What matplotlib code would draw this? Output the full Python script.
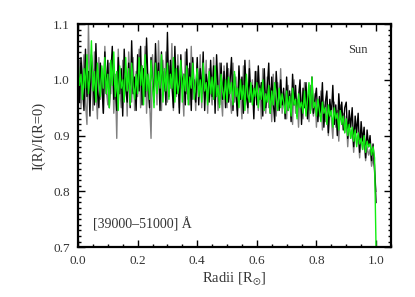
import numpy as np
import matplotlib
matplotlib.use("Agg")
import matplotlib.pyplot as plt
from matplotlib.ticker import MultipleLocator

plt.rcParams['font.family'] = ['Liberation Serif', 'DejaVu Serif']
plt.rcParams['mathtext.fontset'] = 'dejavuserif'

# radii sampled across the disc, 0 .. 1 R_sun (step 0.005)
radii = np.linspace(0.0, 1.0, 201)

gray_vals = [
    0.985, 1.035, 0.950, 1.010, 1.045, 0.960, 0.920, 1.100, 0.975, 1.025, 0.945, 1.050, 0.990, 0.930, 1.040, 0.965, 1.020, 0.940, 1.060, 0.980,
    0.955, 1.030, 0.975, 1.045, 0.940, 1.010, 0.895, 1.055, 0.985, 0.950, 1.035, 0.965, 1.020, 0.935, 1.050, 0.990, 0.960, 1.040, 0.945, 1.015,
    0.970, 1.055, 0.950, 1.025, 0.985, 1.060, 0.940, 1.010, 0.965, 0.895, 1.045, 0.975, 1.030, 0.955, 1.070, 0.990, 0.945, 1.035, 0.980, 1.050,
    0.960, 1.025, 0.985, 1.065, 0.945, 1.010, 0.970, 1.045, 0.950, 1.030, 0.990, 0.935, 1.050, 0.975, 1.020, 0.955, 1.060, 0.965, 1.000, 0.945,
    1.030, 0.970, 1.045, 0.950, 1.005, 0.965, 1.035, 0.940, 1.020, 0.980, 0.955, 1.040, 0.960, 1.010, 0.945, 1.030, 0.975, 0.935, 1.025, 0.985,
    0.950, 1.020, 0.970, 0.940, 1.030, 0.960, 1.005, 0.945, 1.015, 0.980, 0.930, 1.025, 0.955, 0.995, 0.940, 1.035, 0.965, 1.000, 0.950, 0.985,
    1.015, 0.945, 0.990, 0.930, 1.020, 0.960, 0.940, 1.005, 0.950, 0.985, 0.925, 1.010, 0.965, 0.935, 0.995, 0.955, 1.020, 0.940, 0.975, 0.950,
    0.930, 0.990, 0.950, 0.975, 0.920, 1.000, 0.940, 0.965, 0.915, 0.985, 0.955, 0.930, 0.995, 0.945, 0.970, 0.925, 0.990, 0.950, 0.935, 0.975,
    0.915, 0.965, 0.935, 0.980, 0.910, 0.955, 0.925, 0.970, 0.900, 0.950, 0.930, 0.895, 0.960, 0.915, 0.945, 0.890, 0.955, 0.920, 0.940, 0.905,
    0.935, 0.880, 0.925, 0.895, 0.910, 0.870, 0.915, 0.885, 0.900, 0.860, 0.905, 0.875, 0.895, 0.855, 0.880, 0.865, 0.875, 0.845, 0.860, 0.835,
    0.800,
]

black_vals = [
    1.025, 0.960, 1.040, 0.985, 0.945, 1.055, 0.970, 1.015, 0.935, 1.045, 1.005, 0.955, 1.065, 0.980, 0.950, 1.030, 0.990, 0.940, 1.050, 0.975,
    1.035, 0.950, 1.010, 1.060, 0.965, 0.990, 0.945, 1.040, 0.975, 1.020, 0.935, 1.055, 0.985, 0.960, 1.030, 0.950, 1.070, 0.975, 1.005, 0.945,
    1.045, 0.980, 1.060, 0.955, 1.020, 0.970, 1.075, 0.990, 0.950, 1.040, 1.000, 0.960, 1.065, 0.985, 1.030, 0.945, 1.050, 0.975, 1.015, 0.955,
    1.085, 0.970, 1.035, 0.990, 0.950, 1.060, 0.975, 1.025, 0.940, 1.045, 0.985, 1.010, 0.955, 1.055, 0.965, 1.030, 0.945, 1.040, 0.980, 0.960,
    1.040, 0.955, 1.020, 0.975, 1.050, 0.945, 1.010, 0.990, 0.960, 1.035, 0.970, 1.025, 0.940, 1.045, 0.980, 0.955, 1.030, 0.965, 1.015, 0.950,
    1.030, 0.960, 0.995, 1.040, 0.945, 1.010, 0.975, 0.935, 1.025, 0.965, 1.005, 0.940, 1.035, 0.970, 0.950, 1.020, 0.960, 0.990, 0.930, 1.015,
    0.955, 1.025, 0.965, 0.995, 0.935, 1.020, 0.950, 0.985, 1.030, 0.940, 1.005, 0.960, 0.925, 1.015, 0.970, 0.945, 1.000, 0.955, 0.985, 0.930,
    1.005, 0.945, 0.980, 0.925, 1.010, 0.955, 0.990, 0.935, 0.970, 1.000, 0.920, 0.985, 0.950, 0.995, 0.930, 0.975, 0.945, 1.005, 0.940, 0.965,
    0.985, 0.925, 0.970, 0.940, 0.995, 0.915, 0.960, 0.980, 0.905, 0.965, 0.935, 0.990, 0.920, 0.955, 0.900, 0.975, 0.930, 0.960, 0.910, 0.950,
    0.960, 0.895, 0.945, 0.915, 0.950, 0.880, 0.935, 0.905, 0.940, 0.870, 0.925, 0.890, 0.915, 0.860, 0.910, 0.880, 0.900, 0.855, 0.885, 0.845,
    0.780,
]

green_vals = [
    1.035, 0.990, 1.010, 0.965, 1.020, 0.985, 1.045, 0.975, 1.005, 1.070, 0.980, 1.015, 0.960, 1.030, 0.995, 0.970, 1.025, 0.985, 1.040, 0.975,
    1.010, 0.950, 1.035, 0.990, 1.050, 0.970, 1.015, 0.945, 1.025, 0.985, 1.000, 0.960, 1.040, 0.980, 1.020, 0.955, 1.030, 0.990, 0.965, 1.010,
    0.975, 1.040, 0.990, 1.025, 0.955, 1.045, 0.980, 1.010, 0.965, 1.035, 0.995, 0.950, 1.030, 0.975, 1.015, 0.985, 1.045, 0.960, 1.020, 0.980,
    1.030, 0.965, 1.010, 0.985, 1.040, 0.960, 1.020, 0.975, 0.995, 1.035, 0.960, 1.010, 0.980, 1.025, 0.955, 1.005, 0.985, 1.030, 0.965, 0.995,
    1.020, 0.970, 1.000, 0.960, 1.030, 0.980, 0.995, 0.955, 1.015, 0.975, 1.005, 0.965, 1.025, 0.970, 0.990, 0.950, 1.010, 0.980, 0.965, 1.000,
    0.960, 1.005, 0.975, 0.995, 0.955, 1.015, 0.970, 0.985, 0.950, 1.000, 0.965, 0.990, 0.945, 1.010, 0.975, 0.960, 0.995, 0.955, 0.985, 0.970,
    0.995, 0.950, 0.985, 0.965, 1.000, 0.945, 0.975, 0.960, 0.990, 0.940, 0.980, 0.955, 0.995, 0.965, 0.945, 0.985, 0.950, 0.975, 0.960, 0.940,
    0.980, 0.945, 0.970, 0.935, 0.985, 0.955, 0.965, 0.930, 0.975, 0.950, 0.960, 0.940, 0.980, 0.935, 0.965, 0.995, 0.940, 1.005, 0.950, 0.960,
    0.935, 0.965, 0.945, 0.925, 0.960, 0.940, 0.950, 0.920, 0.955, 0.935, 0.945, 0.915, 0.950, 0.930, 0.940, 0.910, 0.945, 0.920, 0.935, 0.905,
    0.930, 0.900, 0.920, 0.895, 0.915, 0.890, 0.910, 0.880, 0.905, 0.885, 0.895, 0.875, 0.900, 0.870, 0.890, 0.880, 0.885, 0.865, 0.880, 0.860,
    0.700,
]

fig = plt.figure(figsize=(4.15, 2.97), dpi=100)
ax = fig.add_axes([0.188, 0.168, 0.754, 0.751])

ax.plot(radii, gray_vals, color='#808080', lw=1.0)
ax.plot(radii, black_vals, color='black', lw=1.0)
ax.plot(radii, green_vals, color='#11ee11', lw=1.0)

ax.set_xlim(0.0, 1.05)
ax.set_ylim(0.7, 1.1)
ax.xaxis.set_major_locator(MultipleLocator(0.2))
ax.xaxis.set_minor_locator(MultipleLocator(0.05))
ax.yaxis.set_major_locator(MultipleLocator(0.1))
ax.yaxis.set_minor_locator(MultipleLocator(0.01))
ax.tick_params(which='both', direction='in', top=True, right=True,
               labelsize=9.5, labelcolor='#333333', pad=6)
ax.tick_params(which='major', length=5, width=1)
ax.tick_params(which='minor', length=2.5, width=1)
ax.xaxis.set_major_formatter(plt.FuncFormatter(lambda v, p: '%.1f' % v))
ax.yaxis.set_major_formatter(plt.FuncFormatter(lambda v, p: '%.1f' % v))
for s in ax.spines.values():
    s.set_linewidth(1.6)

ax.set_xlabel('Radii [R$_{\u2609}$]', fontsize=10.5, color='#333333', labelpad=2)
ax.set_ylabel('I(R)/I(R=0)', fontsize=10.5, color='#333333', labelpad=5)

ax.text(0.905, 1.048, 'Sun', fontsize=9, color='#333333')
ax.text(0.05, 0.734, '[39000\u201351000] \u00c5', fontsize=10, color='#333333')

fig.savefig('out.png', dpi=100)
